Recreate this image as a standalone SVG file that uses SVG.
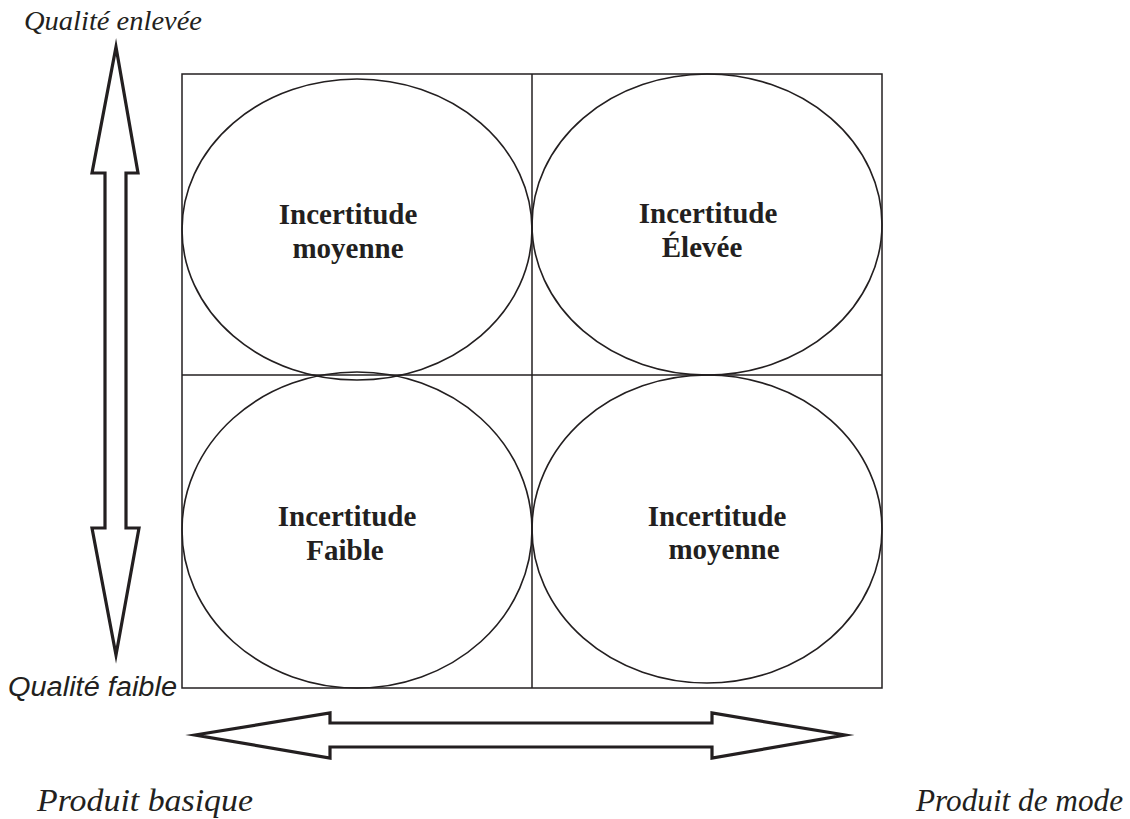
<svg xmlns="http://www.w3.org/2000/svg" width="1130" height="819" viewBox="0 0 1130 819">
  <style>
    .grid { fill: none; stroke: #231f20; stroke-width: 1.5; }
    .oval { fill: none; stroke: #231f20; stroke-width: 1.6; }
    .arrow { fill: #fff; stroke: #231f20; stroke-width: 3.2; stroke-linejoin: miter; stroke-miterlimit: 20; }
    .label { font-family: "Liberation Serif", "Times New Roman", serif; font-weight: bold; font-size: 29px; fill: #231f20; text-anchor: middle; }
    .axis { font-family: "Liberation Serif", "Times New Roman", serif; font-style: italic; fill: #231f20; }
    .axis-sans { font-family: "Liberation Sans", Arial, sans-serif; font-style: italic; font-size: 27px; fill: #231f20; }
  </style>

  <!-- 2x2 matrix frame -->
  <g id="matrix">
    <rect class="grid" x="182" y="74" width="700" height="614"/>
    <line class="grid" x1="532" y1="74" x2="532" y2="688"/>
    <line class="grid" x1="182" y1="375" x2="882" y2="375"/>
  </g>

  <!-- quadrant nodes -->
  <g id="q-top-left">
    <ellipse class="oval" cx="357" cy="229.5" rx="175" ry="150.5"/>
    <text class="label" x="348" y="224">Incertitude</text>
    <text class="label" x="348" y="258">moyenne</text>
  </g>
  <g id="q-top-right">
    <ellipse class="oval" cx="707" cy="224.5" rx="175" ry="150.5"/>
    <text class="label" x="708" y="223">Incertitude</text>
    <text class="label" x="702" y="257">Élevée</text>
  </g>
  <g id="q-bottom-left">
    <ellipse class="oval" cx="357" cy="530" rx="175" ry="158"/>
    <text class="label" x="347" y="526">Incertitude</text>
    <text class="label" x="345" y="560">Faible</text>
  </g>
  <g id="q-bottom-right">
    <ellipse class="oval" cx="707" cy="529" rx="175" ry="154"/>
    <text class="label" x="717" y="526">Incertitude</text>
    <text class="label" x="724" y="559">moyenne</text>
  </g>

  <!-- double-headed axis arrows -->
  <g id="connectors">
    <path class="arrow" d="M116,47 L138,173 L126,173 L126,528 L139,528 L116,655 L92,528 L105,528 L105,173 L92,173 Z"/>
    <path class="arrow" d="M195,735 L330,713 L330,723 L712,723 L712,713 L845,735 L712,758 L712,747 L330,747 L330,758 Z"/>
  </g>

  <!-- axis labels -->
  <g id="axis-labels">
    <text class="axis" x="24" y="30" font-size="27" textLength="178" lengthAdjust="spacingAndGlyphs">Qualité enlevée</text>
    <text class="axis-sans" x="8" y="696" textLength="169" lengthAdjust="spacingAndGlyphs">Qualité faible</text>
    <text class="axis" x="37" y="811" font-size="32" textLength="216" lengthAdjust="spacingAndGlyphs">Produit basique</text>
    <text class="axis" x="916" y="811" font-size="31" textLength="207" lengthAdjust="spacingAndGlyphs">Produit de mode</text>
  </g>
</svg>
